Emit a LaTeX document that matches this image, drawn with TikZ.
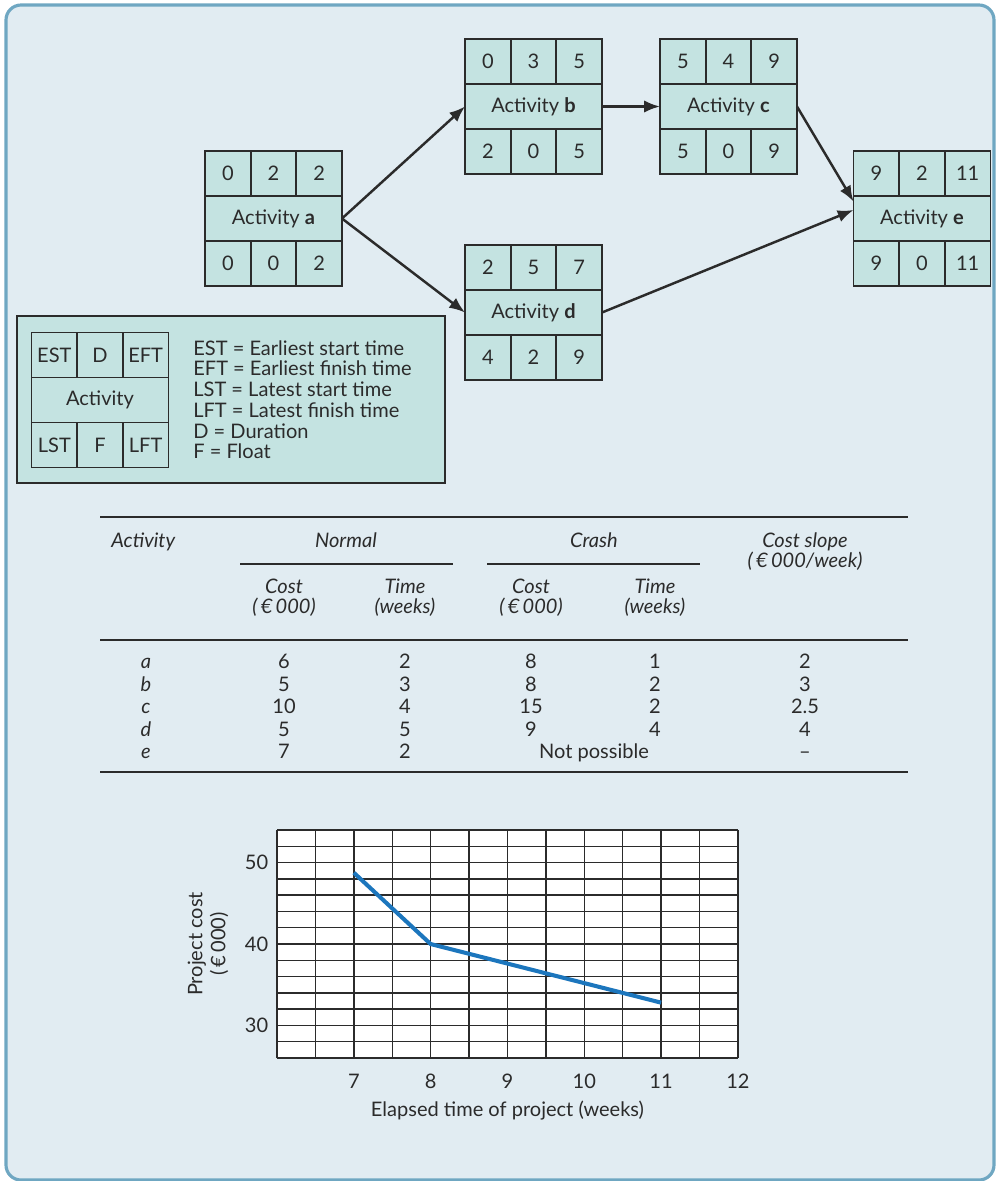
\documentclass[tikz,border=0pt]{standalone}
\usepackage{fontspec}
\setmainfont{Lato}
\usetikzlibrary{arrows.meta,positioning}

\definecolor{bgblue}{HTML}{E1ECF2}
\definecolor{framecol}{HTML}{6FA7C2}
\definecolor{boxfill}{HTML}{C4E3E1}
\definecolor{inkcol}{HTML}{2B2B2B}
\definecolor{costblue}{HTML}{1C76BD}

\newcommand{\txtsize}{\fontsize{11.4pt}{13pt}\selectfont}

% activity box: name, centre, EST, D, EFT, label, LST, F, LFT
\newcommand{\actbox}[9]{%
  \node[actmid] (#1) at (#2) {#6};
  \node[actcell, anchor=south west] (#1-est) at (#1.north west) {#3};
  \node[actcell, right=0pt of #1-est] (#1-dur) {#4};
  \node[actcell, right=0pt of #1-dur] (#1-eft) {#5};
  \node[actcell, anchor=north west] (#1-lst) at (#1.south west) {#7};
  \node[actcell, right=0pt of #1-lst] (#1-flt) {#8};
  \node[actcell, right=0pt of #1-flt] (#1-lft) {#9};
}

\begin{document}
\begin{tikzpicture}[
  x=0.02cm, y=-0.02cm,
  actmid/.style={rectangle, draw=inkcol, fill=boxfill, line width=1pt,
                 minimum width=2.74cm, minimum height=0.9cm, inner sep=0pt,
                 outer sep=0pt, font=\txtsize, text=inkcol},
  actcell/.style={actmid, minimum width=0.9133cm},
  legbox/.style={rectangle, draw=inkcol, fill=boxfill, line width=1pt,
                 minimum width=8.56cm, minimum height=3.34cm},
  legtxt/.style={anchor=north west, align=left, inner sep=0pt, text=inkcol,
                 font=\fontsize{11.4pt}{11.8pt}\selectfont},
  arr/.style={-{Latex[length=9pt,width=7pt]}, line width=1.4pt, draw=inkcol},
  rule/.style={draw=inkcol, line width=1.1pt},
  tabhead/.style={font=\txtsize\itshape, text=inkcol, inner sep=0pt, anchor=base},
  tabcell/.style={font=\txtsize, text=inkcol, inner sep=0pt, anchor=base},
  gridln/.style={draw=inkcol, line width=0.8pt},
  costline/.style={draw=costblue, line width=2.3pt},
  ticklbl/.style={font=\txtsize, text=inkcol, inner sep=0pt}
]
  \useasboundingbox (0,0) rectangle (995,1181);
  \draw[framecol, line width=1.8pt, fill=bgblue, rounded corners=0.3cm]
    (6,5) rectangle (994,1180);

  % Network
  \actbox{a}{273.5,218.5}{0}{2}{2}{Activity \textbf{a}}{0}{0}{2}
  \actbox{b}{533.5,106.5}{0}{3}{5}{Activity \textbf{b}}{2}{0}{5}
  \actbox{c}{728.5,106.5}{5}{4}{9}{Activity \textbf{c}}{5}{0}{9}
  \actbox{d}{533.5,312.5}{2}{5}{7}{Activity \textbf{d}}{4}{2}{9}
  \actbox{e}{922,218.5}{9}{2}{11}{Activity \textbf{e}}{9}{0}{11}

  \draw[arr] (a.east) -- (b.west);
  \draw[arr] (a.east) -- (d.west);
  \draw[arr] (b.east) -- (c.west);
  \draw[arr] (c.east) -- ([yshift=0.34cm]e.west);
  \draw[arr] (d.east) -- ([yshift=0.17cm]e.west);

  % Key
  \node[legbox] (legend) at (231,399.5) {};
  \actbox{key}{100,400}{EST}{D}{EFT}{Activity}{LST}{F}{LFT}
  \node[legtxt] (keytext) at (193,340) {EST = Earliest start time\\
    EFT = Earliest finish time\\LST = Latest start time\\
    LFT = Latest finish time\\D = Duration\\F = Float};

  % Table
  \draw[rule] (100,517) -- (908,517);
  \node[tabhead, anchor=base west] (h-act) at (111,547) {Activity};
  \node[tabhead] (h-norm) at (346,547) {Normal};
  \node[tabhead] (h-crash) at (594,547) {Crash};
  \node[tabhead] (h-slope) at (805,547) {Cost slope};
  \node[tabhead] (h-unit) at (805,567) {(\,€\,000/week)};
  \draw[rule] (240,564) -- (453,564);
  \draw[rule] (487,564) -- (700,564);
  \foreach \x/\t/\u [count=\k] in {284/Cost/(\,€\,000), 405/Time/(weeks),
                                   531/Cost/(\,€\,000), 655/Time/(weeks)} {
    \node[tabhead] (sub\k) at (\x,593) {\t};
    \node[tabhead] (unit\k) at (\x,613.5) {\u};
  }
  \draw[rule] (100,640) -- (908,640);
  \foreach \act/\nc/\nt/\cc/\ct/\sl [count=\r] in
      {a/6/2/8/1/2, b/5/3/8/2/3, c/10/4/15/2/2.5, d/5/5/9/4/4} {
    \pgfmathsetmacro{\yb}{668.5+(\r-1)*22.6}
    \node[tabhead] (r\r-act) at (146,\yb) {\act};
    \node[tabcell] (r\r-nc) at (284,\yb) {\nc};
    \node[tabcell] (r\r-nt) at (405,\yb) {\nt};
    \node[tabcell] (r\r-cc) at (531,\yb) {\cc};
    \node[tabcell] (r\r-ct) at (655,\yb) {\ct};
    \node[tabcell] (r\r-sl) at (805,\yb) {\sl};
  }
  \node[tabhead] (r5-act) at (146,758.9) {e};
  \node[tabcell] (r5-nc) at (284,758.9) {7};
  \node[tabcell] (r5-nt) at (405,758.9) {2};
  \node[tabcell] (r5-cr) at (594,758.9) {Not possible};
  \node[tabcell] (r5-sl) at (805,758.9) {--};
  \draw[rule] (100,772) -- (908,772);

  % Cost--time graph
  \begin{scope}[shift={(277,1058)}, x=1.5366cm, y=0.16286cm, shift={(-6,-26)}]
    \fill[white] (6,26) rectangle (12,54);
    \foreach \gx in {6,6.5,...,12}
      \draw[gridln] (\gx,26) -- (\gx,54);
    \foreach \gy in {26,28,...,54}
      \draw[gridln] (6,\gy) -- (12,\gy);
    \draw[costline] (7,48.76) -- (8,40) -- (11,32.8);
    \foreach \w in {7,...,12}
      \node[ticklbl, anchor=base] (wk\w) at ([yshift=-0.61cm]\w,26) {\w};
    \foreach \c in {30,40,50}
      \node[ticklbl, anchor=east] (cost\c) at ([xshift=-0.17cm]6,\c) {\c};
    \node[ticklbl, anchor=base] (xlab) at ([yshift=-1.16cm]9,26)
      {Elapsed time of project (weeks)};
    \node[ticklbl, rotate=90, align=center] (ylab) at ([xshift=-1.38cm]6,40)
      {Project cost\\(\,€\,000)};
  \end{scope}
\end{tikzpicture}
\end{document}
